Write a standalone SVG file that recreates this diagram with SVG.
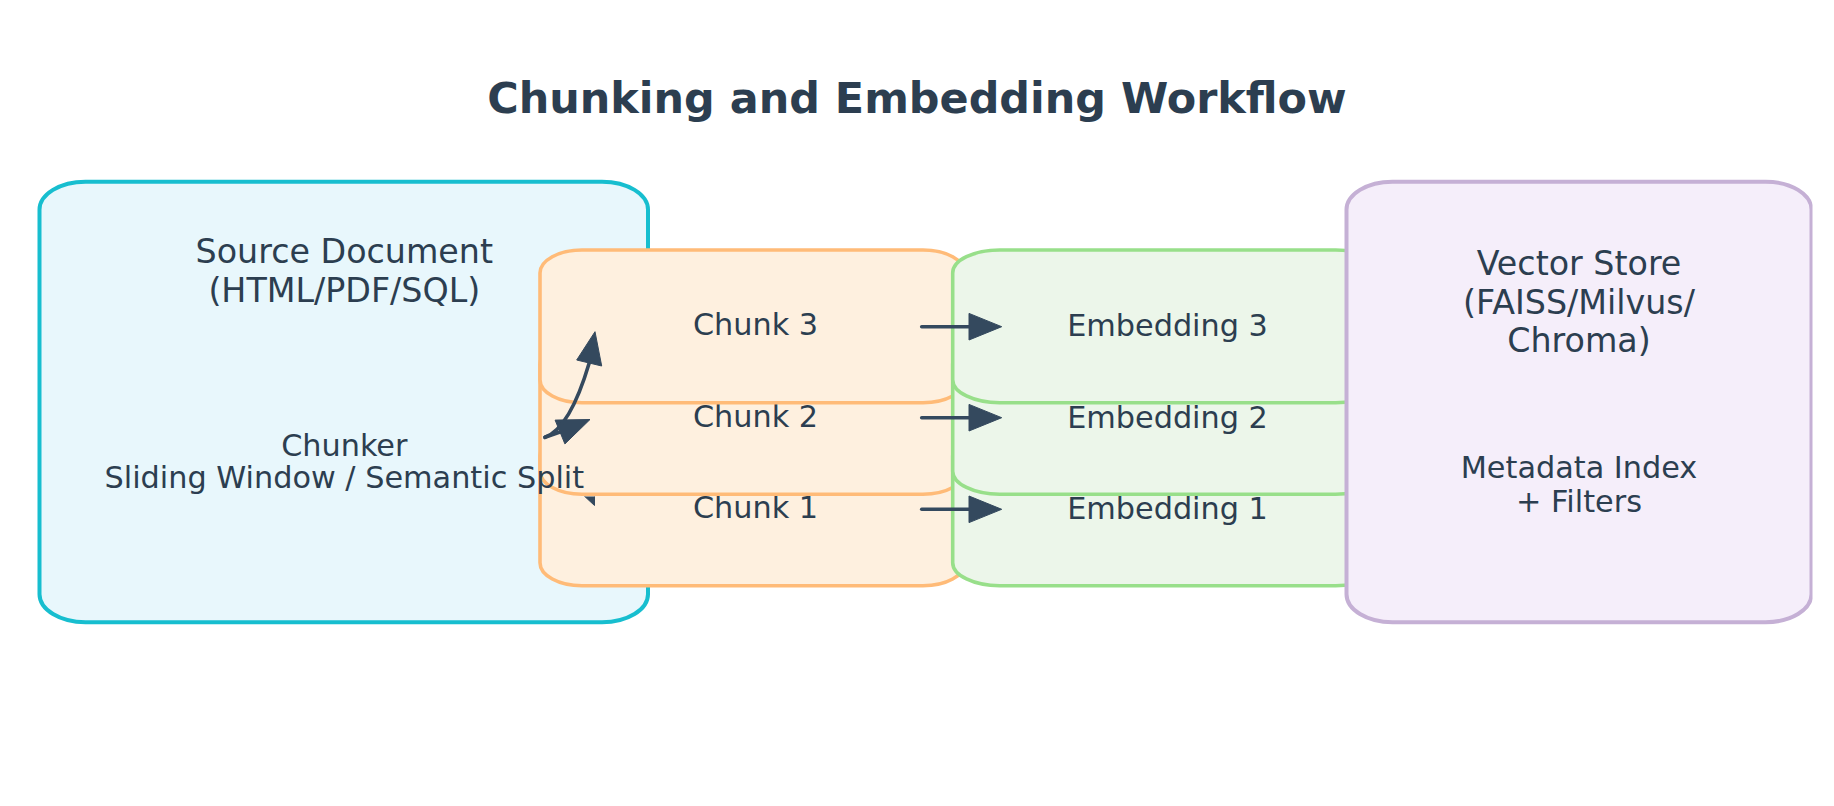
<svg xmlns="http://www.w3.org/2000/svg" width="1834" height="806" viewBox="0 0 1834 806">
  <defs>
    <clipPath id="page"><rect x="0" y="0" width="1812.5" height="806"/></clipPath>
    <clipPath id="below2"><rect x="0" y="496.5" width="1834" height="310"/></clipPath>
    <style>
      text { font-family: "DejaVu Sans", "Liberation Sans", sans-serif; fill: #2c3e50; text-anchor: middle; }
      .title { font-size: 42.9px; font-weight: bold; }
      .big { font-size: 33.3px; }
      .lbl { font-size: 30.3px; }
      .src { fill: #e8f7fc; stroke: #17becf; stroke-width: 4; }
      .chunk { fill: #fef0df; stroke: #ffbb78; stroke-width: 3.6; }
      .emb { fill: #ecf6ea; stroke: #98df8a; stroke-width: 3.6; }
      .store { fill: #f5eefa; stroke: #c5b0d5; stroke-width: 4; }
      .edge { fill: none; stroke: #34495e; stroke-width: 3.6; stroke-linecap: round; }
      .head { fill: #34495e; stroke: #34495e; stroke-width: 1; stroke-linejoin: round; }
    </style>
  </defs>
  <rect x="0" y="0" width="1834" height="806" fill="#ffffff"/>
  <text class="title" x="917" y="112.7">Chunking and Embedding Workflow</text>

  <g clip-path="url(#page)">
    <g id="source-document">
      <rect class="src" x="39.5" y="181.7" width="608.5" height="440.5" rx="46" ry="28"/>
      <text class="big" x="344.3" y="263.3">Source Document</text>
      <text class="big" x="344.3" y="301.7">(HTML/PDF/SQL)</text>
    </g>

    <g id="chunk-1">
      <rect class="chunk" x="540" y="433" width="425" height="152.7" rx="42" ry="23"/>
      <text class="lbl" x="755.5" y="518">Chunk 1</text>
    </g>
    <g id="chunk-2">
      <rect class="chunk" x="540" y="341.5" width="425" height="152.7" rx="42" ry="23"/>
      <text class="lbl" x="755.5" y="426.7">Chunk 2</text>
    </g>
    <g id="chunk-3">
      <rect class="chunk" x="540" y="250" width="425" height="152.7" rx="42" ry="23"/>
      <text class="lbl" x="755.5" y="335">Chunk 3</text>
    </g>

    <g id="embedding-1">
      <rect class="emb" x="952.7" y="433" width="430" height="152.7" rx="47" ry="23"/>
      <text class="lbl" x="1167.5" y="518.7">Embedding 1</text>
    </g>
    <g id="embedding-2">
      <rect class="emb" x="952.7" y="341.5" width="430" height="152.7" rx="47" ry="23"/>
      <text class="lbl" x="1167.5" y="427.7">Embedding 2</text>
    </g>
    <g id="embedding-3">
      <rect class="emb" x="952.7" y="250" width="430" height="152.7" rx="47" ry="23"/>
      <text class="lbl" x="1167.5" y="336">Embedding 3</text>
    </g>

    <g id="vector-store">
      <rect class="store" x="1346.5" y="181.7" width="465" height="440.5" rx="46" ry="28"/>
      <text class="big" x="1579" y="275">Vector Store</text>
      <text class="big" x="1579" y="314">(FAISS/Milvus/</text>
      <text class="big" x="1579" y="351.7">Chroma)</text>
      <text class="lbl" x="1579" y="478.3">Metadata Index</text>
      <text class="lbl" x="1579" y="511.7">+ Filters</text>
    </g>

    <g id="chunker">
      <text class="lbl" x="344.3" y="456">Chunker</text>
      <text class="lbl" x="344.3" y="488">Sliding Window / Semantic Split</text>
    </g>

    <g id="connectors">
      <g clip-path="url(#below2)">
        <path class="edge" d="M545,437.3 L581.9,476.5"/>
        <polygon class="head" points="594.5,505.5 594.5,471 569.2,482"/>
      </g>
      <path class="edge" d="M545,437.3 L560,432"/>
      <polygon class="head" points="590,419.5 555.1,420.1 564.9,443.9"/>
      <path class="edge" d="M545,437.3 Q570,428 589.2,363"/>
      <polygon class="head" points="595,331.7 576.7,360 601.7,366"/>

      <path class="edge" d="M921.7,326.7 L969,326.7"/>
      <polygon class="head" points="1001.7,326.7 969,313.4 969,340"/>
      <path class="edge" d="M921.7,417.7 L969,417.7"/>
      <polygon class="head" points="1001.7,417.7 969,404.4 969,431"/>
      <path class="edge" d="M921.7,509.3 L969,509.3"/>
      <polygon class="head" points="1001.7,509.3 969,496 969,522.6"/>
    </g>
  </g>
</svg>
